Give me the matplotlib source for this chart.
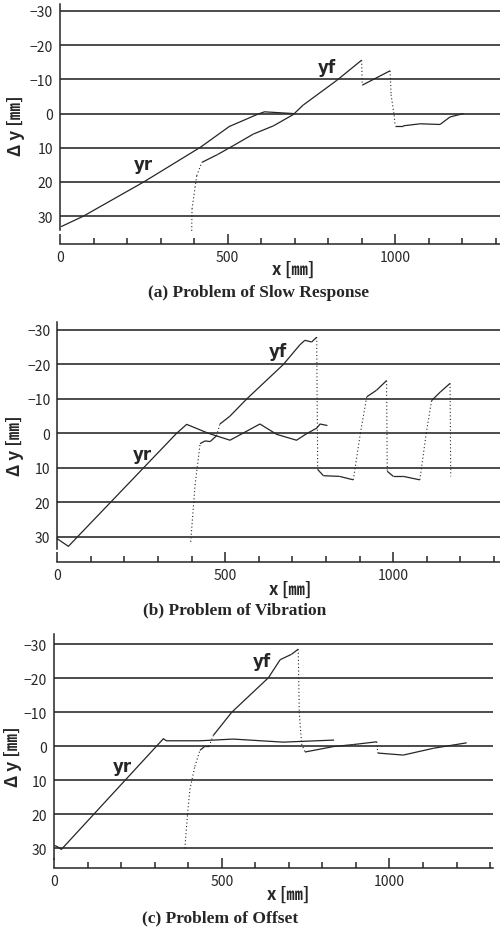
"""Three panels of lateral offset (Δy) against travel distance x: slow response,
vibration and offset problems, each with the rear (yr) and front (yf) traces.

Run:
    python plot.py
"""

from __future__ import annotations

import matplotlib

matplotlib.use("Agg")
import matplotlib.pyplot as plt
import numpy as np
from matplotlib.ticker import MultipleLocator

plt.rcParams["font.family"] = ["Noto Sans CJK JP", "DejaVu Sans"]
plt.rcParams["axes.unicode_minus"] = True

INK = "#262626"
Y_TICKS = [-30, -20, -10, 0, 10, 20, 30]
X_TICKS = [0, 500, 1000]

# (a) slow response
yr_a_x = [5, 70, 250, 420, 505, 590, 610, 695]
yr_a_y = [33, 30, 20, 9.8, 3.8, 0.2, -0.5, 0]
yf_a_x = [393, 394, 403, 408, 423, 470, 517, 577, 637, 696, 726, 826, 900, 902,
          985, 988, 997, 1000, 1024, 1075, 1134, 1164, 1204]
yf_a_y = [34.3, 27.9, 21.6, 18.2, 14.3, 12, 9.4, 6, 3.6, 0.3, -2.5, -9.7, -15.6, -8.3,
          -12.5, -5.5, 0.5, 3.6, 3.6, 3.0, 3.2, 1.0, 0]

# (b) vibration
yr_b_x = [0, 33, 355, 385, 450, 514, 603, 653, 712, 742, 772, 782, 802]
yr_b_y = [30.6, 32.8, 0, -2.6, 0, 2, -2.7, 0.3, 2, 0.1, -1.5, -2.7, -2.3]
yf_b_x = [397, 410, 425, 440, 455, 474, 484, 514, 564, 673, 722, 737, 757, 772,
          775, 792, 840, 881, 902, 921, 950, 980, 982, 1000, 1030, 1079, 1098,
          1114, 1140, 1169, 1171]
yf_b_y = [31.5, 15, 3, 2.2, 2.4, 0.7, -2.7, -5, -10, -20, -25.7, -27, -26.5, -27.9,
          10.5, 12.3, 12.5, 13.5, 0, -10.6, -12.5, -15.3, 11, 12.5, 12.5, 13.5, 0,
          -9.5, -12, -14.5, 12.5]

# (c) offset
yr_c_x = [3, 10, 22, 326, 335, 435, 534, 683, 833]
yr_c_y = [29.2, 29.5, 30.3, -2.2, -1.6, -1.6, -2.1, -1.2, -1.8]
yf_c_x = [390, 398, 405, 420, 435, 450, 462, 475, 530, 639, 674, 708, 728, 731,
          738, 748, 833, 893, 962, 965, 1041, 1131, 1230]
yf_c_y = [30, 20, 12.7, 5.9, 1.2, 0, 0, -3.2, -10, -20.1, -25.4, -27, -28.5, -10,
          -0.7, 1.7, 0.1, -0.5, -1.3, 2, 2.6, 0.6, -1]

PANELS = [
    dict(rect=[0.12, 0.7513, 0.88, 0.2432], xlim=(0, 1313), ylim=(34, -32), outward=10.2,
         yr=(yr_a_x, yr_a_y), yf=(yf_a_x, yf_a_y),
         yr_lab=(248, 14.8), yf_lab=(797, -13.6),
         xlab=(293, 270), ylab=(16, 126), cap=(259, 293),
         caption="(a) Problem of Slow Response"),
    dict(rect=[0.1146, 0.4076, 0.8854, 0.2443], xlim=(0, 1317.6), ylim=(33.5, -32.3),
         outward=9.8, yr=(yr_b_x, yr_b_y), yf=(yf_b_x, yf_b_y),
         yr_lab=(252, 6), yf_lab=(657, -23.9),
         xlab=(290, 590), ylab=(15, 446), cap=(235, 610),
         caption="(b) Problem of Vibration"),
    dict(rect=[0.108, 0.0737, 0.878, 0.2422], xlim=(0, 1308.5), ylim=(33, -33), outward=7,
         yr=(yr_c_x, yr_c_y), yf=(yf_c_x, yf_c_y),
         yr_lab=(203, 5.8), yf_lab=(620, -25),
         xlab=(288, 895), ylab=(13, 757), cap=(220, 918),
         caption="(c) Problem of Offset"),
]

W, H = 500, 928


def draw_front(ax, xs, ys):
    # steep jumps in the front trace come out as sparse dots in the scan
    xs = np.asarray(xs, float)
    ys = np.asarray(ys, float)
    for i in range(len(xs) - 1):
        dx = abs(xs[i + 1] - xs[i])
        dy = abs(ys[i + 1] - ys[i])
        steep = dx == 0 or dy / dx > 0.2
        ax.plot(xs[i:i + 2], ys[i:i + 2], color=INK,
                lw=0.8 if steep else 0.9,
                ls=(0, (1, 2.2)) if steep else "-",
                clip_on=False, solid_capstyle="butt")


def draw_panel(fig, p):
    ax = fig.add_axes(p["rect"])
    ax.set_xlim(*p["xlim"])
    ax.set_ylim(*p["ylim"])

    for y in Y_TICKS:
        ax.axhline(y, color="#2e2e2e", lw=1.2, zorder=1)

    ax.plot(*p["yr"], color=INK, lw=0.9, clip_on=False, zorder=3)
    draw_front(ax, *p["yf"])

    ax.text(*p["yr_lab"], "yr", fontsize=12, fontweight="bold", color=INK,
            ha="center", va="center", family=["DejaVu Sans"])
    ax.text(*p["yf_lab"], "yf", fontsize=12, fontweight="bold", color=INK,
            ha="center", va="center", family=["DejaVu Sans"])

    for side in ("top", "right"):
        ax.spines[side].set_visible(False)
    ax.spines["left"].set_color(INK)
    ax.spines["left"].set_linewidth(1.1)
    ax.spines["bottom"].set_position(("outward", p["outward"]))
    ax.spines["bottom"].set_color(INK)
    ax.spines["bottom"].set_linewidth(1.1)

    ax.set_yticks(Y_TICKS)
    ax.set_yticklabels([f"{v}".replace("-", "\u2212") for v in Y_TICKS])
    ax.tick_params(axis="y", length=0, pad=5, labelsize=10, labelcolor=INK)

    ax.set_xticks(X_TICKS)
    ax.xaxis.set_minor_locator(MultipleLocator(100))
    ax.tick_params(axis="x", which="major", direction="in", length=7, width=1.1,
                   color=INK, pad=4, labelsize=10, labelcolor=INK)
    ax.tick_params(axis="x", which="minor", direction="in", length=4.5, width=1.1,
                   color=INK)

    fig.text(p["xlab"][0] / W, 1 - p["xlab"][1] / H, "x [\u339c]", fontsize=12,
             fontweight="bold", color=INK, ha="center", va="center")
    fig.text(p["ylab"][0] / W, 1 - p["ylab"][1] / H, "\u0394 y [\u339c]", fontsize=12.5,
             fontweight="bold", color=INK, ha="center", va="center", rotation=90)
    fig.text(p["cap"][0] / W, 1 - p["cap"][1] / H, p["caption"], fontsize=12.5,
             fontweight="bold", color=INK, ha="center", va="center",
             family=["Liberation Serif", "DejaVu Serif"])


def main() -> None:
    fig = plt.figure(figsize=(W / 100, H / 100), dpi=100)
    for p in PANELS:
        draw_panel(fig, p)
    fig.savefig("out.png", dpi=100)
    plt.close(fig)


if __name__ == "__main__":
    main()
